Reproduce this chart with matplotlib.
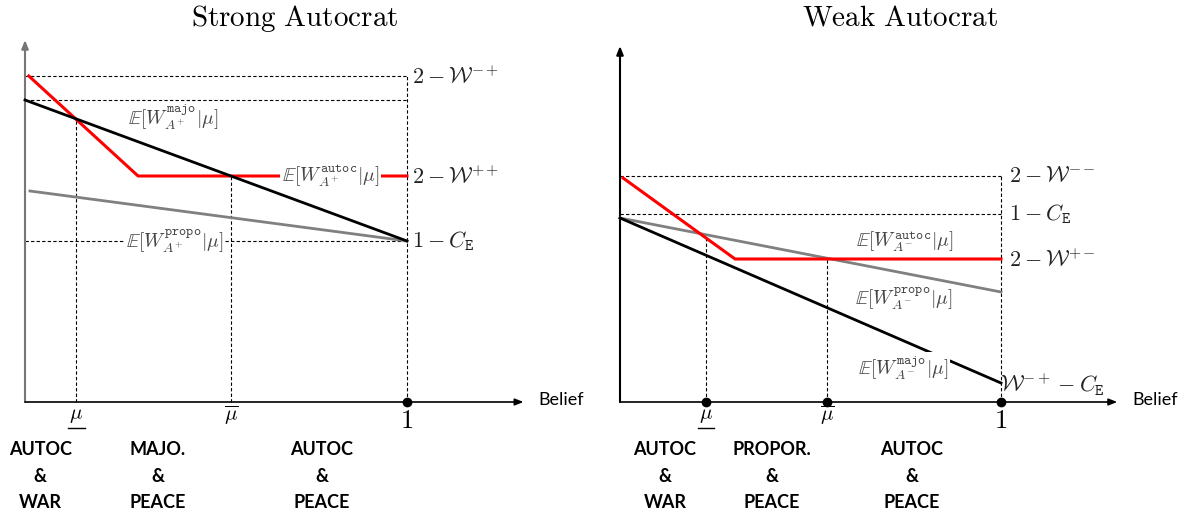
import matplotlib
matplotlib.use("Agg")
import matplotlib.pyplot as plt

plt.rcParams['mathtext.fontset'] = 'cm'
plt.rcParams['font.family'] = ['Lato', 'DejaVu Sans']

# strong autocrat (left panel)
s_mu = [0.134, 0.539]
s_red_x = [0.01, 0.296, 1.0]
s_red_y = [3.26, 2.26, 2.26]
s_black_x = [0.0, 1.0]
s_black_y = [3.02, 1.61]
s_gray_x = [0.013, 1.0]
s_gray_y = [2.11, 1.61]
s_levels = [3.26, 3.02, 1.61]
s_level_labels = [r'$2-\mathcal{W}^{-+}$', r'$2-\mathcal{W}^{++}$', r'$1-C_{\mathtt{E}}$']
s_level_y = [3.26, 2.26, 1.61]
s_regions = ['AUTOC\n&\nWAR', 'MAJO.\n&\nPEACE', 'AUTOC\n&\nPEACE']

# weak autocrat (right panel)
w_mu = [0.226, 0.543]
w_red_x = [0.008, 0.302, 1.0]
w_red_y = [2.24, 1.43, 1.43]
w_black_x = [0.0, 1.0]
w_black_y = [1.84, 0.19]
w_gray_x = [0.0, 1.0]
w_gray_y = [1.84, 1.10]
w_levels = [2.26, 1.88]
w_level_labels = [r'$2-\mathcal{W}^{--}$', r'$1-C_{\mathtt{E}}$', r'$2-\mathcal{W}^{+-}$']
w_level_y = [2.26, 1.88, 1.43]
w_regions = ['AUTOC\n&\nWAR', 'PROPOR.\n&\nPEACE', 'AUTOC\n&\nPEACE']

W, H = 1185, 515
fig = plt.figure(figsize=(W / 100, H / 100), dpi=100)


def make_ax(left_px, width_px):
    ax = fig.add_axes([left_px / W, (H - 402) / H, width_px / W, 400 / H])
    ax.set_xlim(0, 1)
    ax.set_ylim(0, 4)
    ax.axis('off')
    return ax


def interp(xs, ys, x):
    for i in range(len(xs) - 1):
        if xs[i] <= x <= xs[i + 1]:
            t = (x - xs[i]) / (xs[i + 1] - xs[i])
            return ys[i] + t * (ys[i + 1] - ys[i])
    return ys[-1]


dash = dict(color='black', lw=0.8, ls=(0, (3, 2)), clip_on=False, zorder=1)
elab = dict(fontsize=14, color='#444444', ha='center', va='center', zorder=5,
            bbox=dict(facecolor='white', edgecolor='none', pad=1))


def axes_arrows(ax, top, ycolor):
    ax.annotate('', xy=(0, top), xytext=(0, 0), annotation_clip=False,
                arrowprops=dict(arrowstyle='-|>,head_width=0.2,head_length=0.5',
                                color=ycolor, lw=1.5, shrinkA=0, shrinkB=0))
    ax.annotate('', xy=(1.305, 0), xytext=(0, 0), annotation_clip=False,
                arrowprops=dict(arrowstyle='-|>,head_width=0.2,head_length=0.5',
                                color='black', lw=1.2, shrinkA=0, shrinkB=0))
    ax.text(1.345, 0.02, 'Belief', fontsize=13, ha='left', va='center')


def mu_ticks(ax, mu):
    ax.text(mu[0], -0.13, r'$\mu$', fontsize=15, ha='center', va='center')
    ax.plot([mu[0] - 0.022, mu[0] + 0.022], [-0.26, -0.26], color='black', lw=1,
            clip_on=False)
    ax.text(mu[1], -0.13, r'$\overline{\mu}$', fontsize=15, ha='center', va='center')
    ax.text(1, -0.18, r'$1$', fontsize=19, ha='center', va='center')


def regions(ax, xs, labs):
    for x, lab in zip(xs, labs):
        ax.text(x, -0.74, lab, fontsize=13, fontweight='bold', ha='center',
                va='center', linespacing=1.65)


# ---- left panel ----
ax = make_ax(25, 382)
axes_arrows(ax, 3.62, '#777777')
for lv in s_levels:
    ax.plot([0, 1], [lv, lv], **dash)
ax.plot([s_mu[0]] * 2, [0, interp(s_black_x, s_black_y, s_mu[0])], **dash)
ax.plot([s_mu[1]] * 2, [0, interp(s_black_x, s_black_y, s_mu[1])], **dash)
ax.plot([1, 1], [0, s_levels[0]], **dash)
ax.plot(s_gray_x, s_gray_y, color='#808080', lw=2, zorder=3, clip_on=False)
ax.plot(s_red_x, s_red_y, color='red', lw=2.2, zorder=3, clip_on=False)
ax.plot(s_black_x, s_black_y, color='black', lw=2, zorder=4, clip_on=False)
ax.text(0.387, 2.85, r'$\mathbb{E}[W^{\mathtt{majo}}_{A^{+}}|\mu]$', fontsize=14,
        color='#444444', ha='center', va='center')
ax.text(0.80, 2.26, r'$\mathbb{E}[W^{\mathtt{autoc}}_{A^{+}}|\mu]$', **elab)
ax.text(0.393, 1.61, r'$\mathbb{E}[W^{\mathtt{propo}}_{A^{+}}|\mu]$', **elab)
for lab, y in zip(s_level_labels, s_level_y):
    ax.text(1.013, y, lab, fontsize=16, ha='left', va='center', color='#222222')
ax.plot([1], [0], 'o', color='black', ms=6, clip_on=False, zorder=6)
mu_ticks(ax, s_mu)
regions(ax, [0.04, 0.348, 0.777], s_regions)
ax.text(0.707, 3.84, r'$\mathrm{Strong\ Autocrat}$', fontsize=21, ha='center', va='center')

# ---- right panel ----
ax = make_ax(620, 381)
axes_arrows(ax, 3.56, 'black')
for lv in w_levels:
    ax.plot([0, 1], [lv, lv], **dash)
ax.plot([w_mu[0]] * 2, [0, interp(w_gray_x, w_gray_y, w_mu[0])], **dash)
ax.plot([w_mu[1]] * 2, [0, interp(w_gray_x, w_gray_y, w_mu[1])], **dash)
ax.plot([1, 1], [0, w_levels[0]], **dash)
ax.plot(w_gray_x, w_gray_y, color='#808080', lw=2, zorder=3, clip_on=False)
ax.plot(w_red_x, w_red_y, color='red', lw=2.2, zorder=3, clip_on=False)
ax.plot(w_black_x, w_black_y, color='black', lw=2, zorder=4, clip_on=False)
ax.text(0.748, 1.60, r'$\mathbb{E}[W^{\mathtt{autoc}}_{A^{-}}|\mu]$', **elab)
ax.text(0.745, 1.04, r'$\mathbb{E}[W^{\mathtt{propo}}_{A^{-}}|\mu]$', **elab)
ax.text(0.743, 0.34, r'$\mathbb{E}[W^{\mathtt{majo}}_{A^{-}}|\mu]$', **elab)
for lab, y in zip(w_level_labels, w_level_y):
    ax.text(1.02, y, lab, fontsize=16, ha='left', va='center', color='#222222')
ax.text(0.997, 0.17, r'$\mathcal{W}^{-+}-C_{\mathtt{E}}$', fontsize=16, ha='left',
        va='center', color='#222222')
ax.plot(w_mu + [1], [0, 0, 0], 'o', color='black', ms=6, clip_on=False, zorder=6)
mu_ticks(ax, w_mu)
regions(ax, [0.118, 0.399, 0.766], w_regions)
ax.text(0.735, 3.84, r'$\mathrm{Weak\ Autocrat}$', fontsize=21, ha='center', va='center')

fig.savefig('out.png', dpi=100)
